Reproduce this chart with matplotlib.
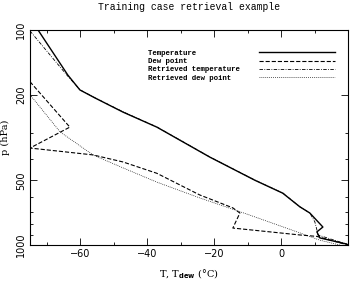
import matplotlib
matplotlib.use("Agg")
import matplotlib.pyplot as plt
from matplotlib.ticker import FixedLocator, NullFormatter, MultipleLocator

plt.rcParams['lines.scale_dashes'] = False

# Data (T in degC, p in hPa)
t_temp = [-72.6, -63.7, -60.1, -55.6, -47.2, -37.1, -21.3, -7.8, 0.5, 5.6, 8.6, 12.5, 10.7, 11.6, 19.6, 20.0]
p_temp = [100, 162, 190, 207, 241, 283, 390, 500, 574, 664, 710, 825, 869, 927, 990, 1000]

t_dew = [-75.0, -63.1, -75.0, -56.2, -47.2, -37.1, -24.3, -14.4, -12.3, -14.4, 5.6, 10.7, 20.0]
p_dew = [174, 283, 354, 381, 411, 464, 585, 672, 710, 834, 898, 912, 1000]

t_rtemp = [-75.0, -64.0, -60.0, -55.5, -47.0, -37.0, -21.2, -7.7, 0.6, 5.6, 8.6, 10.1, 10.7, 11.0, 19.6, 20.0]
p_rtemp = [101, 162, 190, 207, 241, 283, 390, 500, 574, 664, 710, 781, 850, 898, 990, 1000]

t_rdew = [-75.0, -66.0, -56.2, -47.2, -37.1, -24.3, -10.0, 5.6, 11.6, 17.5]
p_rdew = [200, 298, 381, 438, 510, 604, 720, 878, 950, 1000]

labels = ['Temperature', 'Dew point', 'Retrieved temperature', 'Retrieved dew point']
xticks_major = [-60, -40, -20, 0]
yticks_major = [100, 200, 500, 1000]
yticks_minor = [300, 400, 600, 700, 800, 900]

fig = plt.figure(figsize=(3.52, 2.84), dpi=100)
ax = fig.add_axes([30/352, 39/284, 318/352, 215/284])

w = max(len(s) for s in labels)
ax.plot(t_temp, p_temp, color='black', lw=1.0, label=labels[0].ljust(w))
ax.plot(t_dew, p_dew, color='black', lw=0.8, dashes=(3, 1.4), label=labels[1].ljust(w))
ax.plot(t_rtemp, p_rtemp, color='black', lw=0.6, dashes=(2.5, 1, 0.6, 1), label=labels[2].ljust(w))
ax.plot(t_rdew, p_rdew, color='black', lw=0.5, dashes=(0.6, 0.8), label=labels[3].ljust(w))

ax.set_yscale('log')
ax.set_ylim(1000, 100)
ax.set_xlim(-75, 20)
ax.yaxis.set_major_locator(FixedLocator(yticks_major))
ax.yaxis.set_minor_locator(FixedLocator(yticks_minor))
ax.yaxis.set_minor_formatter(NullFormatter())
ax.set_yticklabels([str(v) for v in yticks_major], rotation=90, va='center')
ax.xaxis.set_major_locator(FixedLocator(xticks_major))
ax.xaxis.set_minor_locator(MultipleLocator(10))

ax.tick_params(which='both', direction='in', top=True, right=True, width=0.6)
ax.tick_params(which='major', length=5, labelsize=7, pad=3)
ax.tick_params(which='minor', length=2.5)
for s in ax.spines.values():
    s.set_linewidth(0.8)

ax.set_xlabel(r'T, T$_{\mathbf{dew}}$ ($\degree$C)', family='DejaVu Serif', fontsize=7, labelpad=6)
ax.set_ylabel('p (hPa)', family='DejaVu Serif', fontsize=7, labelpad=4)
fig.text(189/352, 0.975, 'Training case retrieval example', family='Liberation Mono',
         fontsize=7, ha='center', va='center')

leg = ax.legend(loc='upper left', bbox_to_anchor=(0.371, 0.908), frameon=False,
                markerfirst=False, handlelength=10.3, handletextpad=2.6,
                borderpad=0, borderaxespad=0, labelspacing=0.15,
                prop={'family': 'Liberation Mono', 'weight': 'bold', 'size': 5.3})

fig.savefig('out.png', dpi=100)
